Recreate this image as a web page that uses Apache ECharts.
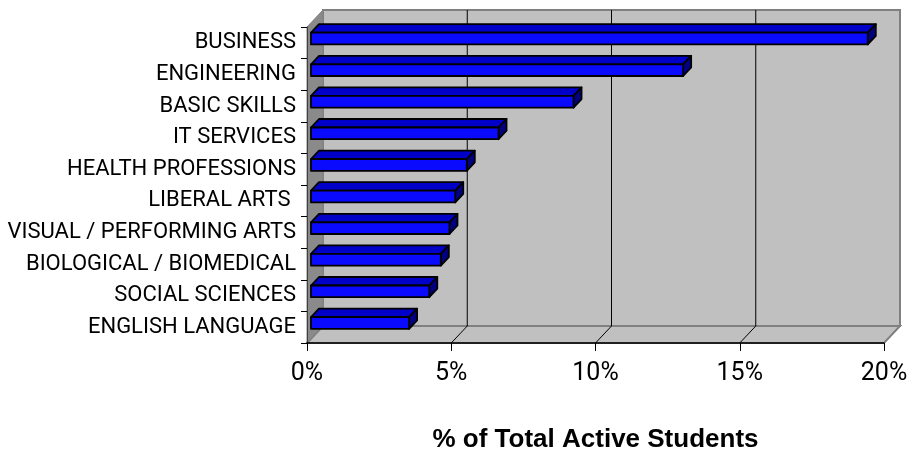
<!DOCTYPE html>
<html>
<head>
<meta charset="utf-8">
<script src="https://cdn.jsdelivr.net/npm/echarts@6/dist/echarts.min.js"></script>
<style>
html,body{margin:0;padding:0;background:#fff;}
#chart{width:912px;height:451px;}
</style>
</head>
<body>
<div id="chart"></div>
<script>
// ---- data ----
const categories = [
  'BUSINESS', 'ENGINEERING', 'BASIC SKILLS', 'IT SERVICES', 'HEALTH PROFESSIONS',
  'LIBERAL ARTS ', 'VISUAL / PERFORMING ARTS', 'BIOLOGICAL / BIOMEDICAL',
  'SOCIAL SCIENCES', 'ENGLISH LANGUAGE'
];
const percentActive = [19.3, 12.9, 9.1, 6.5, 5.4, 5.0, 4.8, 4.5, 4.1, 3.4];
const xTicks = [0, 5, 10, 15, 20];
const axisTitle = '% of Total Active Students';

// ---- 3D look ----
const DX = 16, DY = -17;          // wall depth offset
const FONT = 'Roboto, Liberation Sans, Arial, sans-serif';
const TITLE_FONT = 'Liberation Sans, Arial, sans-serif';

const chart = echarts.init(document.getElementById('chart'), null, {renderer: 'canvas'});

function renderWalls(params, api) {
  const cs = params.coordSys;
  const L = cs.x, T = cs.y, R = cs.x + cs.width, B = cs.y + cs.height;
  const children = [];
  children.push({type: 'polygon', shape: {points: [[L + DX, T + DY], [R + DX, T + DY], [R + DX, B + DY], [L + DX, B + DY]]},
    style: {fill: '#c0c0c0', stroke: '#808080', lineWidth: 2}});
  children.push({type: 'polygon', shape: {points: [[L, B], [R, B], [R + DX, B + DY], [L + DX, B + DY]]},
    style: {fill: '#c0c0c0', stroke: '#808080', lineWidth: 2}});
  xTicks.forEach(function (t) {
    const x = api.coord([t, 0])[0];
    if (t > xTicks[0] && t < xTicks[xTicks.length - 1]) {
      children.push({type: 'line', shape: {x1: x + DX, y1: T + DY, x2: x + DX, y2: B + DY},
        style: {stroke: '#000', lineWidth: 1}});
      children.push({type: 'line', shape: {x1: x, y1: B, x2: x + DX, y2: B + DY},
        style: {stroke: '#000', lineWidth: 1}});
    }
  });
  children.push({type: 'polygon', shape: {points: [[L, T], [L + DX, T + DY], [L + DX, B + DY], [L, B]]},
    style: {fill: '#8a8a8a', stroke: '#808080', lineWidth: 1}});
  return {type: 'group', children: children};
}

function renderBar(params, api) {
  const v = api.value(0), i = api.value(1);
  const p0 = api.coord([0, i]);
  const p1 = api.coord([v, i]);
  const band = api.size([0, 1])[1];
  const h = band * 0.37;
  const fx = DX * 0.25, fy = DY * 0.25;
  const bx = DX * 0.5, by = DY * 0.5;
  const x0 = p0[0] + fx, x1 = p1[0] + fx;
  const yc = p0[1] + fy;
  const yt = yc - h / 2, yb = yc + h / 2;
  const st = {stroke: '#000', lineWidth: 1.8, lineJoin: 'round'};
  return {type: 'group', children: [
    {type: 'polygon', shape: {points: [[x0, yt], [x1, yt], [x1 + bx, yt + by], [x0 + bx, yt + by]]},
      style: Object.assign({fill: '#0000c8'}, st)},
    {type: 'polygon', shape: {points: [[x1, yt], [x1 + bx, yt + by], [x1 + bx, yb + by], [x1, yb]]},
      style: Object.assign({fill: '#000080'}, st)},
    {type: 'rect', shape: {x: x0, y: yt, width: x1 - x0, height: h},
      style: Object.assign({fill: '#0a0aff'}, st)}
  ]};
}

const option = {
  backgroundColor: '#fff',
  animation: false,
  grid: {left: 307, right: 28, top: 27, bottom: 108, containLabel: false, outerBoundsMode: 'none'},
  xAxis: {
    type: 'value',
    min: xTicks[0], max: xTicks[xTicks.length - 1], interval: xTicks[1] - xTicks[0],
    z: 10,
    axisLine: {show: true, lineStyle: {color: '#000', width: 1.5}},
    axisTick: {show: true, length: 8, lineStyle: {color: '#000', width: 1}},
    splitLine: {show: false},
    axisLabel: {formatter: '{value}%', color: '#000', fontSize: 25, fontFamily: FONT, margin: 18},
    name: axisTitle,
    nameLocation: 'middle',
    nameGap: 84,
    nameTextStyle: {color: '#000', fontSize: 26, fontWeight: 'bold', fontFamily: TITLE_FONT}
  },
  yAxis: {
    type: 'category',
    data: categories,
    inverse: true,
    z: 10,
    axisLine: {show: true, lineStyle: {color: '#404040', width: 1}},
    axisTick: {show: true, length: 6, lineStyle: {color: '#000', width: 1}},
    splitLine: {show: false},
    axisLabel: {color: '#000', fontSize: 22, fontFamily: FONT, margin: 11}
  },
  series: [
    {type: 'custom', name: 'walls', data: [[0, 0]], renderItem: renderWalls, silent: true, z: 1},
    {type: 'custom', name: 'bars', data: percentActive.map(function (v, i) { return [v, i]; }),
      encode: {x: 0, y: 1}, renderItem: renderBar, z: 3}
  ]
};
chart.setOption(option);
</script>
</body>
</html>
